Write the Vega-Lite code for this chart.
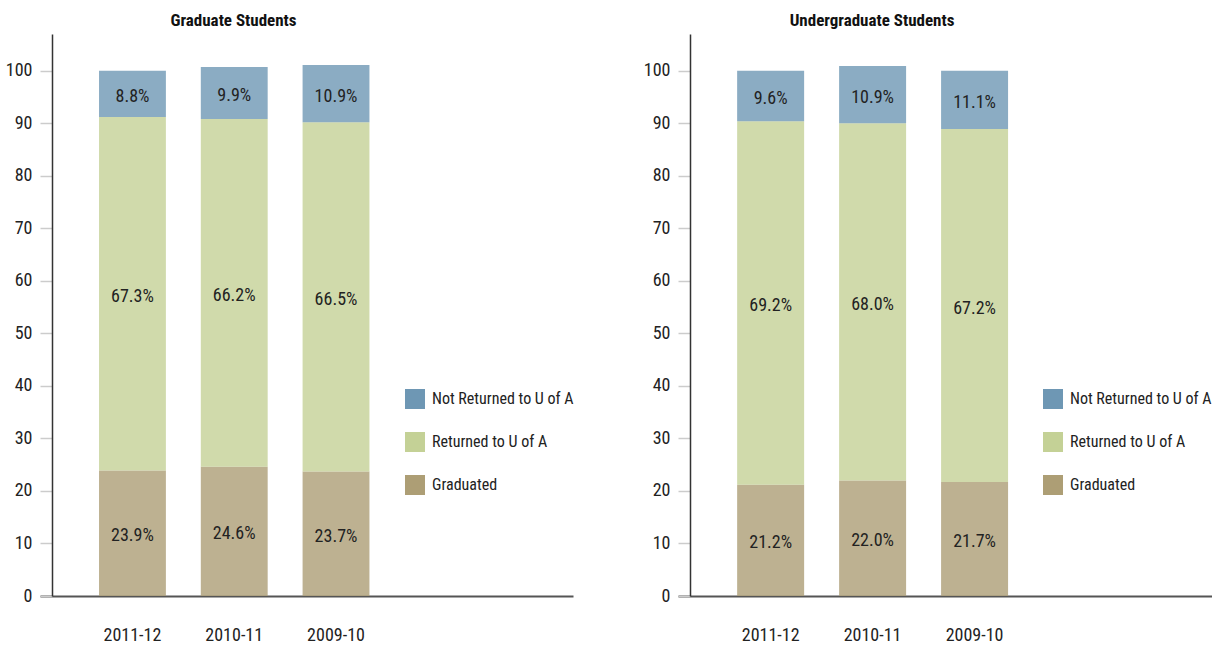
{
  "$schema": "https://vega.github.io/schema/vega-lite/v6.json",
  "padding": {"left": 5, "top": 12, "right": 0, "bottom": 0},
  "background": "white",
  "config": {
    "font": "Noto Sans Condensed, Roboto Condensed, Open Sans Condensed, Liberation Sans Narrow, DejaVu Sans Condensed, sans-serif",
    "view": {"stroke": null},
    "axisY": {
      "grid": false,
      "domainColor": "#333333",
      "domainWidth": 1.5,
      "tickColor": "#cccccc",
      "tickSize": 12,
      "tickWidth": 1.5,
      "labelPadding": 8,
      "labelFontSize": 18,
      "labelColor": "#222222",
      "offset": -12,
      "title": null,
      "values": [0, 10, 20, 30, 40, 50, 60, 70, 80, 90, 100]
    },
    "axisX": {
      "domainColor": "#555555",
      "domainWidth": 2,
      "ticks": false,
      "labelAngle": 0,
      "labelPadding": 30,
      "labelFontSize": 18,
      "labelColor": "#222222",
      "title": null,
      "values": ["2011-12", "2010-11", "2009-10"]
    },
    "legend": {
      "orient": "none",
      "legendX": 365,
      "legendY": 355,
      "title": null,
      "symbolType": "square",
      "symbolSize": 400,
      "symbolOpacity": 1,
      "symbolStrokeWidth": 0,
      "labelFontSize": 16,
      "labelColor": "#222222",
      "labelOffset": 7,
      "rowPadding": 23,
      "labelLimit": 300
    },
    "title": {"fontSize": 17, "fontWeight": "bold", "color": "#111111", "anchor": "middle", "dx": -73, "offset": 4}
  },
  "data": {
    "values": [
      {"group": "Graduate Students", "year": "2011-12", "status": "Graduated", "ord": 0, "value": 23.9, "label": "23.9%"},
      {"group": "Graduate Students", "year": "2011-12", "status": "Returned to U of A", "ord": 1, "value": 67.3, "label": "67.3%"},
      {"group": "Graduate Students", "year": "2011-12", "status": "Not Returned to U of A", "ord": 2, "value": 8.8, "label": "8.8%"},
      {"group": "Graduate Students", "year": "2010-11", "status": "Graduated", "ord": 0, "value": 24.6, "label": "24.6%"},
      {"group": "Graduate Students", "year": "2010-11", "status": "Returned to U of A", "ord": 1, "value": 66.2, "label": "66.2%"},
      {"group": "Graduate Students", "year": "2010-11", "status": "Not Returned to U of A", "ord": 2, "value": 9.9, "label": "9.9%"},
      {"group": "Graduate Students", "year": "2009-10", "status": "Graduated", "ord": 0, "value": 23.7, "label": "23.7%"},
      {"group": "Graduate Students", "year": "2009-10", "status": "Returned to U of A", "ord": 1, "value": 66.5, "label": "66.5%"},
      {"group": "Graduate Students", "year": "2009-10", "status": "Not Returned to U of A", "ord": 2, "value": 10.9, "label": "10.9%"},
      {"group": "Undergraduate Students", "year": "2011-12", "status": "Graduated", "ord": 0, "value": 21.2, "label": "21.2%"},
      {"group": "Undergraduate Students", "year": "2011-12", "status": "Returned to U of A", "ord": 1, "value": 69.2, "label": "69.2%"},
      {"group": "Undergraduate Students", "year": "2011-12", "status": "Not Returned to U of A", "ord": 2, "value": 9.6, "label": "9.6%"},
      {"group": "Undergraduate Students", "year": "2010-11", "status": "Graduated", "ord": 0, "value": 22.0, "label": "22.0%"},
      {"group": "Undergraduate Students", "year": "2010-11", "status": "Returned to U of A", "ord": 1, "value": 68.0, "label": "68.0%"},
      {"group": "Undergraduate Students", "year": "2010-11", "status": "Not Returned to U of A", "ord": 2, "value": 10.9, "label": "10.9%"},
      {"group": "Undergraduate Students", "year": "2009-10", "status": "Graduated", "ord": 0, "value": 21.7, "label": "21.7%"},
      {"group": "Undergraduate Students", "year": "2009-10", "status": "Returned to U of A", "ord": 1, "value": 67.2, "label": "67.2%"},
      {"group": "Undergraduate Students", "year": "2009-10", "status": "Not Returned to U of A", "ord": 2, "value": 11.1, "label": "11.1%"}
    ]
  },
  "spacing": 105,
  "bounds": "flush",
  "resolve": {"legend": {"color": "independent"}},
  "hconcat": [
    {
      "width": 533,
      "height": 562,
      "title": {"text": "Graduate Students"},
      "transform": [
        {"filter": "datum.group === 'Graduate Students'"},
        {"stack": "value", "groupby": ["year"], "sort": [{"field": "ord", "order": "ascending"}], "as": ["v0", "v1"]},
        {"calculate": "(datum.v0 + datum.v1) / 2", "as": "mid"}
      ],
      "layer": [
        {
          "mark": {"type": "bar", "opacity": 0.8},
          "encoding": {
            "x": {"field": "year", "type": "nominal", "scale": {"domain": ["2011-12", "2010-11", "2009-10", " ", "  "], "paddingInner": 0.343, "paddingOuter": 0.29, "align": 1}},
            "y": {"field": "v1", "type": "quantitative", "scale": {"domain": [0, 107], "nice": false}},
            "y2": {"field": "v0"},
            "color": {"field": "status", "type": "nominal", "scale": {"domain": ["Not Returned to U of A", "Returned to U of A", "Graduated"], "range": ["#6e97b4", "#c4d196", "#ad9e75"]}}
          }
        },
        {
          "mark": {"type": "text", "fontSize": 18, "color": "#222222", "dy": 3},
          "encoding": {
            "x": {"field": "year", "type": "nominal"},
            "y": {"field": "mid", "type": "quantitative"},
            "text": {"field": "label"}
          }
        }
      ]
    },
    {
      "width": 534,
      "height": 562,
      "title": {"text": "Undergraduate Students"},
      "transform": [
        {"filter": "datum.group === 'Undergraduate Students'"},
        {"stack": "value", "groupby": ["year"], "sort": [{"field": "ord", "order": "ascending"}], "as": ["v0", "v1"]},
        {"calculate": "(datum.v0 + datum.v1) / 2", "as": "mid"}
      ],
      "layer": [
        {
          "mark": {"type": "bar", "opacity": 0.8},
          "encoding": {
            "x": {"field": "year", "type": "nominal", "scale": {"domain": ["2011-12", "2010-11", "2009-10", " ", "  "], "paddingInner": 0.343, "paddingOuter": 0.29, "align": 1}},
            "y": {"field": "v1", "type": "quantitative", "scale": {"domain": [0, 107], "nice": false}},
            "y2": {"field": "v0"},
            "color": {"field": "status", "type": "nominal", "scale": {"domain": ["Not Returned to U of A", "Returned to U of A", "Graduated"], "range": ["#6e97b4", "#c4d196", "#ad9e75"]}}
          }
        },
        {
          "mark": {"type": "text", "fontSize": 18, "color": "#222222", "dy": 3},
          "encoding": {
            "x": {"field": "year", "type": "nominal"},
            "y": {"field": "mid", "type": "quantitative"},
            "text": {"field": "label"}
          }
        }
      ]
    }
  ]
}
